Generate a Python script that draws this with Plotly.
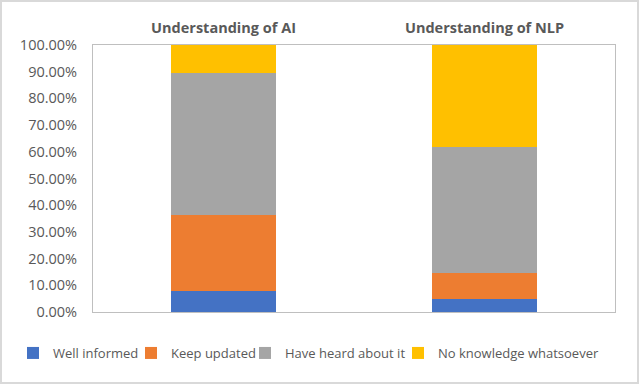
import plotly.graph_objects as go

categories = ["Understanding of AI", "Understanding of NLP"]
series_names = ["Well informed", "Keep updated", "Have heard about it", "No knowledge whatsoever"]
well_informed = [0.080, 0.047]
keep_updated = [0.285, 0.100]
heard_about = [0.530, 0.470]
no_knowledge = [0.105, 0.383]
y_ticks = [0, 0.1, 0.2, 0.3, 0.4, 0.5, 0.6, 0.7, 0.8, 0.9, 1.0]

colors = ["#4472C4", "#ED7D31", "#A5A5A5", "#FFC000"]
values = [well_informed, keep_updated, heard_about, no_knowledge]

W, H = 639, 384
ml, mr, mt, mb = 93, 24, 45, 72
pw, ph = W - ml - mr, H - mt - mb

# legend text start positions (pixels) -> one legend per series
legend_text_x = [53, 171, 285, 438]
legend_names = ["legend", "legend2", "legend3", "legend4"]

fig = go.Figure()
for name, vals, col, lg in zip(series_names, values, colors, legend_names):
    fig.add_trace(go.Bar(
        x=["<b>" + c + "</b>" for c in categories], y=vals, name=name,
        marker=dict(color=col, line=dict(width=0)), legend=lg,
    ))

legend_common = dict(orientation="h", xref="container", yref="container",
                     xanchor="left", yanchor="middle", y=1 - 353 / H,
                     font=dict(size=13, color="#595959"), itemwidth=30,
                     itemclick=False, itemdoubleclick=False,
                     bgcolor="rgba(0,0,0,0)", borderwidth=0)

layout_legends = {}
for lg, tx in zip(legend_names, legend_text_x):
    layout_legends[lg] = dict(legend_common, x=(tx - 40) / W)

fig.update_layout(
    barmode="stack",
    bargap=0.6,
    width=W, height=H,
    margin=dict(l=ml, r=mr, t=mt, b=mb, autoexpand=False),
    paper_bgcolor="white", plot_bgcolor="white",
    font=dict(family="Open Sans, Liberation Sans, sans-serif", color="#595959", size=13),
    showlegend=True,
    xaxis=dict(side="top", showline=True, linecolor="#BFBFBF", linewidth=1, mirror=True,
               ticks="outside", ticklen=5, tickcolor="rgba(0,0,0,0)",
               tickfont=dict(size=14.5, color="#595959"), fixedrange=True),
    yaxis=dict(range=[0, 1], tickvals=y_ticks, tickformat=".2%", showgrid=False,
               showline=True, linecolor="#BFBFBF", linewidth=1, mirror=True,
               ticks="outside", ticklen=12, tickcolor="rgba(0,0,0,0)",
               tickfont=dict(size=14.5, color="#595959"), zeroline=False, fixedrange=True),
    shapes=[dict(type="rect", xref="paper", yref="paper",
                 x0=(1 - ml) / pw, x1=(W - 1 - ml) / pw,
                 y0=(H - mb - (H - 1)) / ph, y1=(H - mb - 1) / ph,
                 line=dict(color="#D9D9D9", width=2))],
    **layout_legends,
)

fig.write_html("out.html", config={"displayModeBar": False},
               post_script="document.body.style.margin='0';document.body.style.overflow='hidden';")
